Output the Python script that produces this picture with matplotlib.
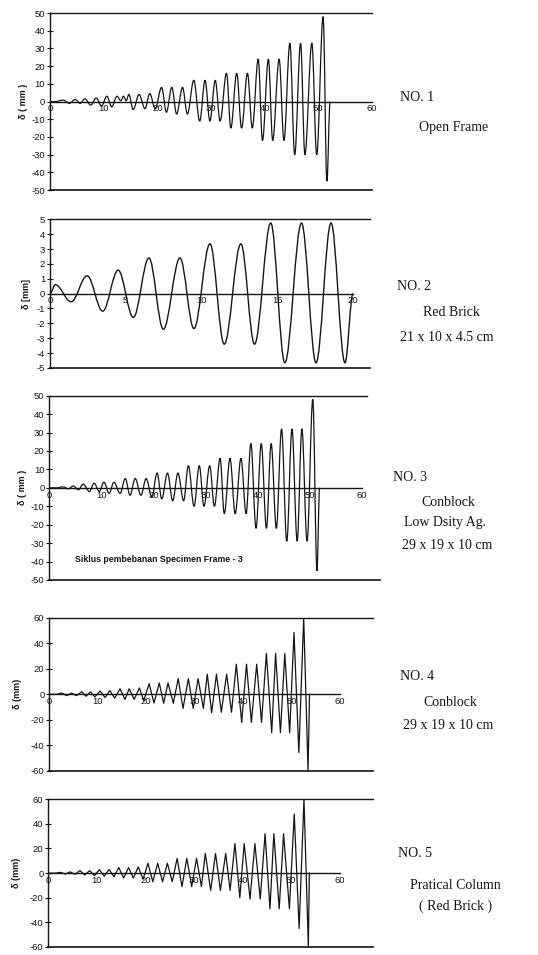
import matplotlib
matplotlib.use("Agg")
import matplotlib.pyplot as plt
from matplotlib.path import Path
from matplotlib.patches import PathPatch

plt.rcParams['font.family'] = ['Liberation Sans', 'DejaVu Sans']
plt.rcParams['axes.unicode_minus'] = False

# turning points of the loading cycles (x, displacement in mm)
x1 = [0, 1.0, 2.5, 3.6, 4.7, 5.6, 6.5, 7.6, 8.6, 9.6, 10.6, 11.5, 12.5, 13.2, 13.7, 14.2, 14.7,
      15.5, 16.6, 17.7, 18.6, 19.6, 20.8, 21.7, 22.7, 23.6, 24.7, 25.6, 26.8, 27.9, 28.9, 29.8,
      30.8, 31.7, 32.9, 33.7, 34.8, 35.7, 36.8, 37.7, 38.8, 39.6, 40.7, 41.5, 42.7, 43.6, 44.7,
      45.6, 46.7, 47.5, 48.8, 49.7, 50.9, 51.6, 52.2]
y1 = [0, 0, 0.8, -1, 1.2, -1, 1.5, -2, 2, -2.5, 3, -3, 3, 0.5, 3, 0.5, 4,
      -4.5, 4, -4, 4.5, -4, 8, -6, 8, -7, 8, -7, 12, -11, 12, -11,
      12, -11, 16, -15, 16, -15, 16, -15, 24, -22, 24, -22, 24, -22, 33,
      -30, 33, -30, 33, -30, 48, -45, 0]

x2 = [0, 0.35, 1.4, 2.45, 3.48, 4.5, 5.5, 6.53, 7.48, 8.58, 9.5, 10.56, 11.5, 12.6, 13.5,
      14.57, 15.5, 16.6, 17.56, 18.55, 19.47, 20.0]
y2 = [0, 0.6, -0.55, 1.2, -1.18, 1.58, -1.6, 2.4, -2.4, 2.4, -2.35, 3.35, -3.4, 3.35, -3.4,
      4.75, -4.65, 4.75, -4.65, 4.75, -4.65, 0]

x3 = [0, 1.5, 2.6, 3.7, 4.6, 5.6, 6.5, 7.7, 8.6, 9.6, 10.5, 11.5, 12.4, 13.6, 14.6, 15.5,
      16.5, 17.6, 18.6, 19.7, 20.7, 21.6, 22.7, 23.7, 24.7, 25.8, 26.7, 27.8, 28.8, 29.7,
      30.8, 31.7, 32.8, 33.6, 34.7, 35.7, 36.8, 37.8, 38.7, 39.7, 40.7, 41.7, 42.6, 43.6,
      44.6, 45.6, 46.6, 47.6, 48.5, 49.5, 50.6, 51.4, 51.9]
y3 = [0, 0, 0.5, -0.5, 1, -1, 2, -2, 2.5, -2, 3, -3, 3, -3, 5, -4,
      5, -4, 5, -5, 8, -6, 8, -7, 8, -7, 12, -10, 12, -10,
      12, -10, 16, -14, 16, -14, 16, -14, 24, -22, 24, -22, 24, -22,
      32, -29, 32, -29, 32, -29, 48, -45, 0]

x4 = [0, 1.5, 2.55, 3.6, 4.6, 5.6, 6.7, 7.6, 8.5, 9.4, 10.5, 11.5, 12.5, 13.5, 14.6, 15.6,
      16.5, 17.5, 18.6, 19.5, 20.6, 21.6, 22.7, 23.6, 24.5, 25.6, 26.6, 27.6, 28.7, 29.7,
      30.7, 31.8, 32.6, 33.5, 34.5, 35.5, 36.6, 37.6, 38.6, 39.7, 40.7, 41.7, 42.8, 43.8,
      44.8, 45.9, 46.7, 47.7, 48.6, 49.6, 50.5, 51.5, 52.5, 53.4, 53.7]
y4 = [0, 0, 1, -1, 1, -1, 2, -1.5, 2, -2, 2.6, -2.5, 3, -3, 4.4, -4,
      4.4, -4, 5, -5, 8.4, -6.8, 8.9, -7, 8.9, -7, 12.3, -11, 12.3, -11,
      12.3, -11, 15.8, -14.4, 15.8, -14, 15.8, -14, 23.6, -22, 23.6, -22, 23.6, -22,
      32, -30, 32, -30, 32, -30, 48.4, -45.6, 60, -60, 0]

x5 = [0, 1.5, 2.5, 3.5, 4.5, 5.5, 6.5, 7.5, 8.5, 9.5, 10.5, 11.5, 12.5, 13.5, 14.5, 15.5,
      16.5, 17.5, 18.5, 19.5, 20.5, 21.5, 22.5, 23.5, 24.5, 25.5, 26.5, 27.5, 28.5, 29.5,
      30.5, 31.5, 32.3, 33.4, 34.4, 35.4, 36.5, 37.4, 38.4, 39.4, 40.3, 41.5, 42.5, 43.6,
      44.6, 45.6, 46.4, 47.5, 48.4, 49.6, 50.6, 51.6, 52.6, 53.5, 53.7]
y5 = [0, 0, 0.6, -0.8, 1, -1, 2, -1.5, 2, -2, 2.8, -2.5, 3, -3, 4.5, -4,
      4.5, -4, 5, -5, 8, -7, 8, -7, 8, -7, 12, -11, 12, -11,
      12, -11, 16, -14, 16, -14, 16, -14, 24, -20, 24, -21, 24, -21,
      32, -29, 32, -29, 32, -29, 48, -45, 60, -60, 0]

yticks_50 = [50, 40, 30, 20, 10, 0, -10, -20, -30, -40, -50]
yticks_5 = [5, 4, 3, 2, 1, 0, -1, -2, -3, -4, -5]
yticks_60 = [60, 40, 20, 0, -20, -40, -60]
xticks_60 = [0, 10, 20, 30, 40, 50, 60]
xticks_20 = [0, 5, 10, 15, 20]

ylabels = ["δ ( mm )", "δ [mm]", "δ ( mm )", "δ (mm)", "δ (mm)"]
titles = [["NO. 1", "Open Frame"],
          ["NO. 2", "Red Brick", "21 x 10 x 4.5 cm"],
          ["NO. 3", "Conblock", "Low Dsity Ag.", "29 x 19 x 10 cm"],
          ["NO. 4", "Conblock", "29 x 19 x 10 cm"],
          ["NO. 5", "Pratical Column", "( Red Brick )"]]
note3 = "Siklus pembebanan Specimen Frame - 3"

INK = '#151515'


def smooth_path(xs, ys, k=0.36):
    verts = [(xs[0], ys[0])]
    codes = [Path.MOVETO]
    for i in range(len(xs) - 1):
        dx = xs[i + 1] - xs[i]
        verts += [(xs[i] + k * dx, ys[i]), (xs[i + 1] - k * dx, ys[i + 1]), (xs[i + 1], ys[i + 1])]
        codes += [Path.CURVE4] * 3
    return Path(verts, codes)


def frame(ax, xlim, ylim, xticks, yticks, xend, top_end=None):
    ax.set_xlim(*xlim)
    ax.set_ylim(*ylim)
    ax.spines['right'].set_visible(False)
    ax.spines['bottom'].set_position(('data', 0))
    ax.spines['bottom'].set_bounds(0, xend)
    if top_end is not None:
        ax.spines['top'].set_bounds(0, top_end)
    for s in ['left', 'top', 'bottom']:
        ax.spines[s].set_linewidth(1.0)
        ax.spines[s].set_color(INK)
    ax.axhline(ylim[0], color=INK, lw=1.2, clip_on=False)
    ax.set_xticks(xticks)
    ax.set_yticks(yticks)
    ax.set_yticklabels([str(v) for v in yticks])
    ax.tick_params(axis='x', length=0, pad=2, labelsize=6.8, colors=INK)
    ax.tick_params(axis='y', direction='inout', length=4, width=0.8, pad=1.5,
                   labelsize=6.8, colors=INK)
    ax.patch.set_alpha(0)


fig = plt.figure(figsize=(5.38, 9.55), dpi=100)

# panel 1
ax1 = fig.add_axes([0.0929, 0.801, 0.5985, 0.1853])
frame(ax1, (0, 60), (-50, 50), xticks_60, yticks_50, 60)
ax1.add_patch(PathPatch(smooth_path(x1, y1), fill=False, lw=0.9, ec=INK))

# panel 2
ax2 = fig.add_axes([0.0929, 0.6147, 0.5948, 0.1557])
frame(ax2, (0, 21.12), (-5, 5), xticks_20, yticks_5, 20)
ax2.add_patch(PathPatch(smooth_path(x2, y2), fill=False, lw=1.0, ec=INK))

# panel 3
ax3 = fig.add_axes([0.0916, 0.3927, 0.6147, 0.193])
frame(ax3, (0, 63.5), (-50, 50), xticks_60, yticks_50, 60, top_end=61.1)
ax3.add_patch(PathPatch(smooth_path(x3, y3), fill=False, lw=0.9, ec=INK))
ax3.text(4.9, -39, note3, fontsize=6.3, fontweight='bold', color=INK, va='center')

# panel 4
ax4 = fig.add_axes([0.0916, 0.1927, 0.6017, 0.1605])
frame(ax4, (0, 66.8), (-60, 60), xticks_60, yticks_60, 60)
ax4.plot(x4, y4, color=INK, lw=0.9)

# panel 5
ax5 = fig.add_axes([0.0898, 0.0084, 0.6035, 0.1547])
frame(ax5, (0, 66.8), (-60, 60), xticks_60, yticks_60, 60)
ax5.plot(x5, y5, color=INK, lw=0.9)
ax5.set_xticks([60], minor=True)
ax5.tick_params(axis='x', which='minor', direction='inout', length=6, width=0.8, colors=INK)

axes = [ax1, ax2, ax3, ax4, ax5]
label_x = [-0.068, -0.06, -0.068, -0.085, -0.085]
for ax, lab, lx in zip(axes, ylabels, label_x):
    ax.set_ylabel(lab, fontsize=6.5, fontweight='bold', color=INK)
    ylo, yhi = ax.get_ylim()
    ax.yaxis.set_label_coords(lx, (0 - ylo) / (yhi - ylo))

# captions on the right
serif = ['Liberation Serif', 'DejaVu Serif']
cap_pos = [[(0.7435, 0.8974), (0.8439, 0.866)],
           [(0.7379, 0.7005), (0.840, 0.6723), (0.831, 0.6471)],
           [(0.7305, 0.4995), (0.8327, 0.4733), (0.827, 0.4524), (0.8318, 0.4293)],
           [(0.7435, 0.2921), (0.8364, 0.2639), (0.8336, 0.2408)],
           [(0.7398, 0.1068), (0.8467, 0.0723), (0.8467, 0.0513)]]
for lines, pos in zip(titles, cap_pos):
    for i, (txt, (px, py)) in enumerate(zip(lines, pos)):
        fig.text(px, py, txt, family=serif, fontsize=10, color=INK,
                 ha='left' if i == 0 else 'center', va='center')

fig.savefig("out.png", dpi=100)
